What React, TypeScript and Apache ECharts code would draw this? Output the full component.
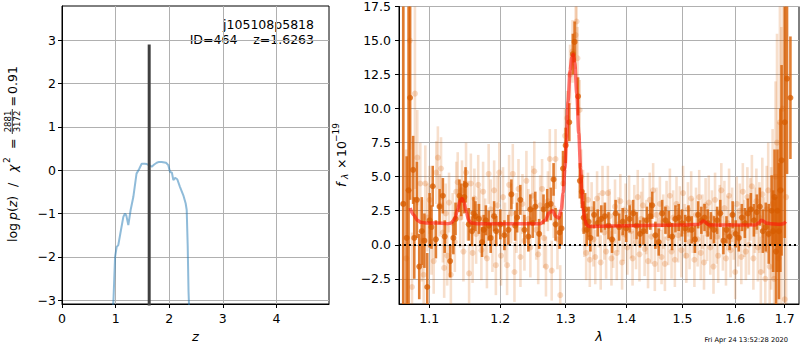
import React, { useEffect, useRef } from 'react';
import * as echarts from 'echarts';

// ---------- left panel: log p(z) ----------
const pzZ = [0.93, 0.96, 0.99, 1.02, 1.05, 1.09, 1.144, 1.175, 1.2, 1.237, 1.28, 1.33, 1.39, 1.437, 1.487, 1.54, 1.58, 1.62, 1.673, 1.72, 1.767, 1.81, 1.86, 1.94, 1.983, 2.015, 2.05, 2.077, 2.11, 2.15, 2.2, 2.263, 2.307, 2.326, 2.345, 2.36, 2.38];
const pzLogP = [-3.5, -3.0, -2.0, -1.77, -1.73, -1.45, -1.08, -1.0, -1.05, -1.27, -0.92, -0.62, -0.08, 0.02, 0.15, 0.15, 0.14, 0.12, 0.08, 0.13, 0.17, 0.19, 0.19, 0.17, 0.115, -0.04, -0.06, -0.23, -0.18, -0.21, -0.385, -0.58, -0.77, -0.92, -1.77, -2.8, -3.5];
const zBest = 1.6263;
const zLineY = [-3.3, 2.9];
const leftXTicks = [0, 1, 2, 3, 4];
const leftYTicks = [-3, -2, -1, 0, 1, 2, 3];

// ---------- right panel: spectrum ----------
const darkLam = [
  1.0655, 1.07, 1.0725, 1.0745, 1.0785, 1.08, 1.0835, 1.0866, 1.09, 1.0935, 1.0973, 1.1005,
  1.103, 1.1047, 1.109, 1.114, 1.1185, 1.121, 1.1285, 1.133, 1.136, 1.1414, 1.144, 1.1483, 1.15, 1.1545, 1.159, 1.1612, 1.164, 1.169, 1.1735, 1.1759, 1.179, 1.183, 1.186, 1.1909, 1.194,
  1.2, 1.206, 1.212, 1.2164, 1.222, 1.225, 1.2298, 1.236, 1.242, 1.245, 1.2487, 1.2525, 1.2585, 1.2652, 1.271, 1.2765, 1.2809, 1.284, 1.2903, 1.2935,
  1.2958, 1.3, 1.3058, 1.3115, 1.3143, 1.3199, 1.3228, 1.326, 1.329, 1.3314, 1.334, 1.337,
  1.34, 1.346, 1.352, 1.358, 1.364, 1.37, 1.376, 1.382, 1.388, 1.394, 1.4, 1.406, 1.412, 1.418, 1.424, 1.43, 1.436, 1.442, 1.4453, 1.451, 1.457, 1.463, 1.469, 1.475, 1.481, 1.487, 1.493,
  1.499, 1.505, 1.511, 1.517, 1.523, 1.529, 1.535, 1.541, 1.547, 1.553, 1.559, 1.565, 1.571, 1.577, 1.583, 1.589, 1.595, 1.601, 1.607, 1.613, 1.619, 1.625, 1.631, 1.637, 1.643, 1.649, 1.655, 1.661, 1.667, 1.673,
  1.676, 1.679, 1.682, 1.685, 1.688, 1.691, 1.6935, 1.7, 1.7048, 1.7119,
];
const darkFlux = [
  3.0, 0.5, 4.0, 10.8, 5.5, 0.5, 3.3, -1.6, 1.0, 0.3, -3.1, 1.8,
  1.3, 4.3, 0.4, 2.8, 3.6, 0.6, -1.2, 0.5, 1.9, 3.6, 3.3, 3.5, 4.4, 1.5, 1.0, 2.3, 2.1, 1.9, 0.2, 1.1, 1.8, 1.4, 0.5, 2.1, 1.0,
  1.5, 0.7, 1.1, 3.7, 1.4, 2.0, 3.3, 1.1, 0.6, 2.6, 1.6, 2.8, 0.8, 2.6, 2.9, 3.0, 4.8, 1.5, 0.9, 1.2,
  5.6, 7.3, 9.0, 14.0, 14.9, 10.9, 4.7, 3.9, 2.0, 2.6, 1.1, 1.7,
  0.5, 2.2, 1.6, 1.9, 2.1, 1.4, 0.4, 2.3, 1.3, 1.7, 1.2, 1.9, 2.3, 1.4, 0.8, 1.0, 1.8, 2.1, 2.9, 0.7, 0.2, 2.3, 1.8, 1.5, 0.6, 1.9, 2.0,
  1.6, 1.2, 1.9, 1.1, 0.4, 2.2, 1.8, 2.0, 1.6, 1.4, 1.1, 1.8, 2.3, 0.3, 1.1, 0.6, 2.2, 0.8, 0.5, 2.0, 1.6, 2.3, 2.6, 1.8, 2.4, 2.8, 1.0, 1.3, 0.8, 2.5,
  1.0, 3.5, -0.5, 2.5, 1.0, 4.0, 6.2, 9.0, 12.2, 10.8,
];
const darkErr = [
  30, 6.0, 30, 7.5, 2.5, 3.0, 2.8, 2.4, 2.5, 2.0, 2.5, 2.0,
  1.6, 1.5, 1.4, 1.3, 1.3, 1.2, 1.2, 1.2, 1.2, 1.2, 1.2, 1.2, 1.3, 1.2, 1.1, 1.2, 1.1, 1.1, 1.1, 1.1, 1.1, 1.1, 1.1, 1.1, 1.1,
  1.1, 1.1, 1.1, 1.1, 1.1, 1.1, 1.1, 1.1, 1.1, 1.1, 1.1, 1.1, 1.1, 1.1, 1.2, 1.2, 1.2, 1.2, 1.2, 1.2,
  1.3, 1.3, 1.4, 1.5, 1.5, 1.4, 1.3, 1.2, 1.2, 1.2, 1.2, 1.1,
  1.0, 1.0, 1.0, 1.0, 1.0, 1.0, 1.0, 1.0, 1.0, 1.0, 1.0, 1.0, 1.0, 1.0, 1.0, 1.0, 1.0, 1.0, 1.0, 1.0, 1.0, 1.0, 1.0, 1.0, 1.0, 1.0, 1.0,
  1.0, 1.0, 1.0, 1.0, 1.0, 1.0, 1.0, 1.0, 1.0, 1.0, 1.0, 1.0, 1.0, 1.0, 1.0, 1.0, 1.0, 1.0, 1.0, 1.0, 1.1, 1.1, 1.2, 1.2, 1.3, 1.4, 1.6, 1.8, 2.2, 2.6,
  3.0, 3.5, 4.0, 4.5, 5.0, 6.0, 7.0, 8.5, 7.0, 4.5,
];

const lightLam = [
  1.066, 1.0695, 1.0743, 1.077, 1.0809, 1.084, 1.088, 1.0903, 1.0925, 1.0947, 1.0975, 1.1004, 1.103, 1.106, 1.1095, 1.1117, 1.114, 1.116, 1.1185, 1.1203, 1.1225, 1.1245, 1.127, 1.1295, 1.132, 1.135, 1.137, 1.139, 1.1425, 1.145, 1.147, 1.1507, 1.153, 1.155, 1.1575, 1.16, 1.1625, 1.165, 1.168, 1.17, 1.1725, 1.175, 1.178, 1.1805, 1.183, 1.186, 1.1885, 1.191, 1.1935, 1.196, 1.1985,
  1.201, 1.204, 1.207, 1.21, 1.213, 1.216, 1.2185, 1.221, 1.224, 1.227, 1.23, 1.233, 1.236, 1.239, 1.242, 1.245, 1.248, 1.251, 1.254, 1.257, 1.26, 1.263, 1.266, 1.269, 1.272, 1.275, 1.278, 1.281, 1.284, 1.287, 1.2914,
  1.296, 1.299, 1.3025, 1.307, 1.311, 1.316, 1.3175, 1.319, 1.3225, 1.325, 1.328,
  1.33, 1.333, 1.336, 1.339, 1.342, 1.345, 1.348, 1.351, 1.354, 1.357, 1.36, 1.363, 1.366, 1.369, 1.372, 1.375, 1.378, 1.381, 1.384, 1.387, 1.39, 1.393, 1.396, 1.399, 1.402, 1.405, 1.408, 1.411, 1.414, 1.417, 1.42, 1.423, 1.426, 1.429, 1.432, 1.435, 1.438, 1.441, 1.444, 1.447, 1.45, 1.453, 1.456, 1.459, 1.462, 1.465, 1.468, 1.471, 1.474, 1.477, 1.48, 1.483, 1.486, 1.489, 1.492, 1.495, 1.498,
  1.501, 1.504, 1.507, 1.51, 1.513, 1.516, 1.519, 1.522, 1.525, 1.528, 1.531, 1.534, 1.537, 1.54, 1.543, 1.546, 1.549, 1.552, 1.555, 1.558, 1.561, 1.564, 1.567, 1.57, 1.573, 1.576, 1.579, 1.582, 1.585, 1.588, 1.591, 1.594, 1.597, 1.6, 1.603, 1.606, 1.609, 1.612,
  1.615, 1.618, 1.621, 1.624, 1.627, 1.63, 1.633, 1.636, 1.639, 1.642, 1.645, 1.648, 1.651, 1.654, 1.657, 1.66, 1.663, 1.666, 1.669, 1.672, 1.675, 1.678, 1.681, 1.684, 1.687, 1.69, 1.693, 1.696, 1.7, 1.703,
];
const lightFlux = [
  3.0, -1.0, 15.0, -3.1, 11.1, 6.4, 4.5, 0.3, -2.2, 4.5, 2.0, 3.3, 0.2, -1.2, 5.3, 6.4, 2.9, 5.6, 0.9, -1.7, 2.3, -0.8, 3.1, -2.2, 1.6, 0.2, 3.9, 4.6, 2.0, 4.0, -0.5, 5.3, 2.5, -2.1, 4.5, -0.6, 3.4, 0.8, 4.4, 2.0, -0.4, 3.9, 1.2, -1.0, 5.2, 2.6, 0.2, 4.0, -1.5, 2.9, 5.3,
  -0.8, 3.5, 0.9, -1.5, 4.4, 2.3, 5.2, -2.0, 1.6, 4.1, -0.9, 3.0, 0.3, 4.7, 1.9, -0.2, 3.6, 5.4, 1.1, -0.7, 2.9, 4.1, 0.5, -1.6, 3.2, 6.3, -1.9, 2.7, 6.3, 0.4, -3.7,
  4.5, 8.0, 9.3, 12.5, 14.2, 15.4, 16.4, 13.7, 9.9, 5.0, 3.5,
  1.1, -0.6, 3.3, -1.1, 2.6, 0.4, -0.9, 3.4, 1.8, -1.3, 3.8, 0.9, -0.5, 3.8, 2.1, -1.0, 0.3, 2.8, -0.6, 1.5, 3.2, -1.3, 0.8, 2.5, -0.2, 3.1, 1.0, -1.0, 2.4, 0.2, 3.5, -0.7, 1.9, 2.9, -0.3, 1.3, -1.2, 3.3, 0.6, 4.0, -1.4, 2.2, 0.0, 3.0, -0.9, 1.7, -1.4, 2.7, 0.5, 3.6, -0.5, 2.0, -1.1, 3.0, 0.7, 2.3, -0.4,
  3.8, 1.0, -0.8, 2.6, 0.2, 3.4, 1.4, -1.1, 2.2, 0.4, 3.5, -0.6, 1.7, -1.3, 2.9, 0.8, 3.1, -0.2, 2.0, -1.6, 3.3, 0.6, -0.8, 2.4, 4.0, 0.1, 2.7, -1.0, 1.6, 3.6, -0.4, 2.2, 0.9, -2.0, 3.0, 0.4, 2.5, -0.9,
  3.9, 1.2, -0.5, 3.5, 0.0, 2.6, 4.3, -1.0, 1.8, 3.2, -0.2, 2.0, -2.0, 3.7, 0.7, -2.5, 2.6, 4.0, -1.6, 1.2, 3.0, -2.5, 5.0, 7.5, -1.0, 9.0, 4.0, 10.0, -4.0, 3.5,
];
const lightErr = [
  30, 8, 8, 4, 7, 3.5, 3.0, 3.0, 3.0, 2.8, 2.5, 2.5, 2.4, 2.4, 2.3, 2.3, 2.3, 2.3, 2.2, 2.2, 2.2, 2.2, 2.2, 2.2, 2.2, 2.2, 2.2, 2.2, 2.2, 2.2, 2.2, 2.2, 2.2, 2.2, 2.2, 2.2, 2.2, 2.2, 2.2, 2.2, 2.2, 2.2, 2.2, 2.2, 2.2, 2.2, 2.2, 2.2, 2.2, 2.2, 2.2,
  2.2, 2.2, 2.2, 2.2, 2.2, 2.2, 2.2, 2.2, 2.2, 2.2, 2.2, 2.2, 2.2, 2.2, 2.2, 2.2, 2.2, 2.2, 2.2, 2.2, 2.2, 2.2, 2.2, 2.2, 2.2, 2.2, 2.2, 2.2, 2.2, 2.2, 2.2,
  2.0, 2.0, 2.0, 2.2, 2.3, 2.5, 2.5, 2.3, 2.2, 2.0, 2.0,
  2.0, 2.0, 2.0, 2.0, 2.0, 2.0, 2.0, 2.0, 2.0, 2.0, 2.0, 2.0, 2.0, 2.0, 2.0, 2.0, 2.0, 2.0, 2.0, 2.0, 2.0, 2.0, 2.0, 2.0, 2.0, 2.0, 2.0, 2.0, 2.0, 2.0, 2.0, 2.0, 2.0, 2.0, 2.0, 2.0, 2.0, 2.0, 2.0, 2.0, 2.0, 2.0, 2.0, 2.0, 2.0, 2.0, 2.0, 2.0, 2.0, 2.0, 2.0, 2.0, 2.0, 2.0, 2.0, 2.0, 2.0,
  2.0, 2.0, 2.0, 2.0, 2.0, 2.0, 2.0, 2.0, 2.0, 2.0, 2.0, 2.0, 2.0, 2.0, 2.0, 2.0, 2.0, 2.0, 2.0, 2.0, 2.0, 2.0, 2.0, 2.0, 2.0, 2.0, 2.0, 2.0, 2.0, 2.0, 2.0, 2.0, 2.0, 2.0, 2.0, 2.0, 2.0, 2.0,
  2.1, 2.1, 2.1, 2.2, 2.2, 2.3, 2.3, 2.3, 2.4, 2.4, 2.5, 2.6, 2.6, 2.7, 2.8, 3.0, 3.2, 3.5, 4.0, 4.5, 5.5, 6.0, 7.0, 8.0, 10, 9, 12, 10, 14, 15,
];

const modelLam = [1.0745, 1.079, 1.084, 1.089, 1.095, 1.11, 1.125, 1.13, 1.135, 1.139, 1.142, 1.1452, 1.148, 1.151, 1.1545, 1.158, 1.165, 1.2, 1.26, 1.268, 1.274, 1.2795, 1.284, 1.2893, 1.293, 1.296, 1.2989, 1.3015, 1.3038, 1.307, 1.31, 1.3121, 1.3145, 1.318, 1.321, 1.324, 1.326, 1.3282, 1.331, 1.334, 1.338, 1.4, 1.5, 1.53, 1.534, 1.538, 1.542, 1.546, 1.55, 1.64, 1.647, 1.652, 1.656, 1.661, 1.67, 1.69, 1.698, 1.702];
const modelFlux = [2.7, 2.2, 1.8, 1.65, 1.6, 1.6, 1.55, 1.6, 1.9, 2.6, 3.2, 3.4, 3.1, 2.4, 1.8, 1.6, 1.55, 1.55, 1.55, 1.8, 2.35, 2.5, 2.1, 1.95, 2.6, 3.8, 5.6, 7.8, 10.5, 12.8, 13.8, 14.0, 13.4, 11.0, 8.2, 5.6, 4.0, 2.6, 1.8, 1.45, 1.35, 1.4, 1.45, 1.5, 1.6, 1.75, 1.7, 1.55, 1.45, 1.45, 1.6, 1.8, 1.75, 1.6, 1.55, 1.5, 1.55, 1.7];

const rightXTicks = [1.1, 1.2, 1.3, 1.4, 1.5, 1.6, 1.7];
const rightYTicks = [-2.5, 0, 2.5, 5, 7.5, 10, 12.5, 15, 17.5];
const zeroLevel = 0;

const objName = 'j105108p5818';
const objLine2 = 'ID=464\u00a0\u00a0\u00a0\u00a0z=1.6263';
const timeStamp = 'Fri Apr 24 13:52:28 2020';

const FONT = "'DejaVu Sans', 'Liberation Sans', sans-serif";
const FS = 12.5;

const fmt = (v: number, d: number) => (v < 0 ? '\u2212' : '') + Math.abs(v).toFixed(d);

function errBarSeries(lam: number[], flux: number[], err: number[], color: string, width: number, z: number) {
  return {
    type: 'custom',
    xAxisIndex: 1,
    yAxisIndex: 1,
    z,
    silent: true,
    data: lam.map((l, i) => [l, flux[i], err[i] ?? 1]),
    encode: { x: 0, y: 1 },
    renderItem: (params: any, api: any) => {
      const x = api.value(0);
      const y = api.value(1);
      const e = api.value(2);
      const p1 = api.coord([x, y - e]);
      const p2 = api.coord([x, y + e]);
      const cs = params.coordSys;
      const top = cs.y;
      const bot = cs.y + cs.height;
      const y1 = Math.min(Math.max(p1[1], top), bot);
      const y2 = Math.min(Math.max(p2[1], top), bot);
      return {
        type: 'line',
        shape: { x1: p1[0], y1, x2: p1[0], y2 },
        style: { stroke: color, lineWidth: width },
      };
    },
  };
}

export default function App() {
  const ref = useRef<HTMLDivElement>(null);
  useEffect(() => {
    if (!ref.current) return;
    const chart = echarts.init(ref.current, undefined, { renderer: 'svg' });
    const axisCommon = {
      axisLine: { show: true, onZero: false, lineStyle: { color: '#000', width: 1 } },
      axisTick: { show: true, inside: false, length: 4, lineStyle: { color: '#000', width: 1 } },
      splitLine: { show: true, lineStyle: { color: '#b0b0b0', width: 1 } },
      nameTextStyle: { color: '#000', fontFamily: FONT, fontSize: 13, fontStyle: 'italic' },
    };
    const option: any = {
      animation: false,
      backgroundColor: '#fff',
      textStyle: { fontFamily: FONT },
      grid: [
        { left: 62, top: 6, width: 267, height: 298, show: true, borderColor: '#000', borderWidth: 1, backgroundColor: 'transparent' },
        { left: 399, top: 6, width: 400, height: 298, show: true, borderColor: '#000', borderWidth: 1, backgroundColor: 'transparent' },
      ],
      xAxis: [
        {
          ...axisCommon,
          gridIndex: 0,
          type: 'value',
          min: 0,
          max: 4.98,
          interval: 1,
          axisLabel: { color: '#000', fontSize: FS, margin: 8, customValues: leftXTicks, formatter: (v: number) => fmt(v, 0) },
          axisTick: { ...axisCommon.axisTick, customValues: leftXTicks },
          name: 'z',
          nameLocation: 'middle',
          nameGap: 26,
        },
        {
          ...axisCommon,
          gridIndex: 1,
          type: 'log',
          logBase: 10,
          min: 1.06,
          max: 1.73,
          splitLine: { show: false },
          axisLabel: { color: '#000', fontSize: FS, margin: 8, customValues: rightXTicks, formatter: (v: number) => fmt(v, 1) },
          axisTick: { ...axisCommon.axisTick, customValues: rightXTicks },
          name: '\u03bb',
          nameLocation: 'middle',
          nameGap: 26,
        },
      ],
      yAxis: [
        {
          ...axisCommon,
          gridIndex: 0,
          type: 'value',
          min: -3.09,
          max: 3.79,
          axisLabel: { color: '#000', fontSize: FS, margin: 6, customValues: leftYTicks, formatter: (v: number) => fmt(v, 0) },
          axisTick: { ...axisCommon.axisTick, customValues: leftYTicks },
        },
        {
          ...axisCommon,
          gridIndex: 1,
          type: 'value',
          min: -4.35,
          max: 17.5,
          axisLabel: { color: '#000', fontSize: FS, margin: 8, customValues: rightYTicks, formatter: (v: number) => fmt(v, 1) },
          axisTick: { ...axisCommon.axisTick, customValues: rightYTicks },
        },
      ],
      series: [
        {
          type: 'line',
          xAxisIndex: 0,
          yAxisIndex: 0,
          data: pzZ.map((z, i) => [z, pzLogP[i]]),
          showSymbol: false,
          lineStyle: { color: 'rgba(31,119,180,0.5)', width: 2 },
          clip: true,
          z: 3,
        },
        {
          type: 'line',
          xAxisIndex: 0,
          yAxisIndex: 0,
          data: zLineY.map((y) => [zBest, y]),
          showSymbol: false,
          lineStyle: { color: '#404040', width: 3 },
          clip: true,
          z: 4,
        },
        errBarSeries(lightLam, lightFlux, lightErr, 'rgba(217,95,2,0.2)', 2.6, 2),
        {
          type: 'scatter',
          xAxisIndex: 1,
          yAxisIndex: 1,
          data: lightLam.map((l, i) => [l, lightFlux[i]]),
          symbolSize: 6,
          itemStyle: { color: 'rgba(217,95,2,0.28)' },
          clip: true,
          z: 2,
          markLine: {
            silent: true,
            z: 1,
            symbol: 'none',
            label: { show: false },
            lineStyle: { color: '#b0b0b0', type: 'solid', width: 1 },
            data: rightXTicks.map((v) => ({ xAxis: v })),
          },
        },
        errBarSeries(darkLam, darkFlux, darkErr, 'rgba(217,95,2,0.8)', 2.6, 3),
        {
          type: 'scatter',
          xAxisIndex: 1,
          yAxisIndex: 1,
          data: darkLam.map((l, i) => [l, darkFlux[i]]),
          symbolSize: 6,
          itemStyle: { color: 'rgba(214,92,0,0.95)' },
          clip: true,
          z: 3,
        },
        {
          type: 'line',
          xAxisIndex: 1,
          yAxisIndex: 1,
          data: modelLam.map((l, i) => [l, modelFlux[i]]),
          showSymbol: false,
          smooth: 0.3,
          smoothMonotone: 'x',
          lineStyle: { color: 'rgba(255,20,10,0.6)', width: 3.5 },
          clip: true,
          z: 5,
          markLine: {
            silent: true,
            symbol: 'none',
            label: { show: false },
            lineStyle: { color: '#000', type: [2, 3], width: 1.8 },
            data: [{ yAxis: zeroLevel }],
          },
        },
      ],
      graphic: [
        {
          type: 'text',
          x: 314,
          y: 24,
          style: { text: objName, fontFamily: FONT, fontSize: FS, fill: '#000', align: 'right', verticalAlign: 'middle' },
        },
        {
          type: 'text',
          x: 314,
          y: 39,
          style: { text: objLine2, fontFamily: FONT, fontSize: FS, fill: '#000', align: 'right', verticalAlign: 'middle' },
        },
        {
          type: 'text',
          x: 788,
          y: 340,
          style: { text: timeStamp, fontFamily: FONT, fontSize: 6.7, fill: '#000', align: 'right', verticalAlign: 'middle' },
        },
        {
          type: 'group',
          x: 12,
          y: 156,
          rotation: Math.PI / 2,
          children: [
            { type: 'text', x: -86, y: 0, style: { text: 'log', fontFamily: FONT, fontSize: FS, fill: '#000', align: 'left', verticalAlign: 'middle' } },
            {
              type: 'text', x: -64, y: 0,
              style: {
                text: '{i|p}{r|(}{i|z}{r|)}', fontFamily: FONT, fontSize: FS, fill: '#000', align: 'left', verticalAlign: 'middle',
                rich: { i: { fontFamily: FONT, fontSize: FS, fontStyle: 'italic', fill: '#000' }, r: { fontFamily: FONT, fontSize: FS, fill: '#000' } },
              },
            },
            { type: 'text', x: -31, y: 0, style: { text: '/', fontFamily: FONT, fontSize: FS, fill: '#000', align: 'left', verticalAlign: 'middle' } },
            { type: 'text', x: -16, y: 0, style: { text: '\u03c7', fontFamily: FONT, fontSize: FS, fontStyle: 'italic', fill: '#000', align: 'left', verticalAlign: 'middle' } },
            { type: 'text', x: -7, y: -5, style: { text: '2', fontFamily: FONT, fontSize: 9, fill: '#000', align: 'left', verticalAlign: 'middle' } },
            { type: 'text', x: 7, y: 0, style: { text: '=', fontFamily: FONT, fontSize: FS, fill: '#000', align: 'left', verticalAlign: 'middle' } },
            { type: 'text', x: 34.5, y: -4, style: { text: '2881', fontFamily: FONT, fontSize: 8.5, fill: '#000', align: 'center', verticalAlign: 'middle' } },
            { type: 'line', shape: { x1: 22, y1: 0.3, x2: 47, y2: 0.3 }, style: { stroke: '#000', lineWidth: 0.8 } },
            { type: 'text', x: 34.5, y: 4.8, style: { text: '3172', fontFamily: FONT, fontSize: 8.5, fill: '#000', align: 'center', verticalAlign: 'middle' } },
            { type: 'text', x: 49.5, y: 0, style: { text: '=', fontFamily: FONT, fontSize: FS, fill: '#000', align: 'left', verticalAlign: 'middle' } },
            { type: 'text', x: 62, y: 0, style: { text: '0.91', fontFamily: FONT, fontSize: FS, fill: '#000', align: 'left', verticalAlign: 'middle' } },
          ],
        },
        {
          type: 'group',
          x: 341,
          y: 155,
          rotation: Math.PI / 2,
          children: [
            { type: 'text', x: -32, y: 0, style: { text: 'f', fontFamily: FONT, fontSize: FS, fontStyle: 'italic', fill: '#000', align: 'left', verticalAlign: 'middle' } },
            { type: 'text', x: -24, y: 3.5, style: { text: '\u03bb', fontFamily: FONT, fontSize: 9, fontStyle: 'italic', fill: '#000', align: 'left', verticalAlign: 'middle' } },
            { type: 'text', x: -14, y: 0, style: { text: '\u00d7', fontFamily: FONT, fontSize: FS, fill: '#000', align: 'left', verticalAlign: 'middle' } },
            { type: 'text', x: -2, y: 0, style: { text: '10', fontFamily: FONT, fontSize: FS, fill: '#000', align: 'left', verticalAlign: 'middle' } },
            { type: 'text', x: 13, y: -5.5, style: { text: '\u221219', fontFamily: FONT, fontSize: 9, fill: '#000', align: 'left', verticalAlign: 'middle' } },
          ],
        },
      ],
    };
    chart.setOption(option);
    return () => chart.dispose();
  }, []);
  return <div ref={ref} style={{ position: 'fixed', left: 0, top: 0, width: 800, height: 350, background: '#fff' }} />;
}
